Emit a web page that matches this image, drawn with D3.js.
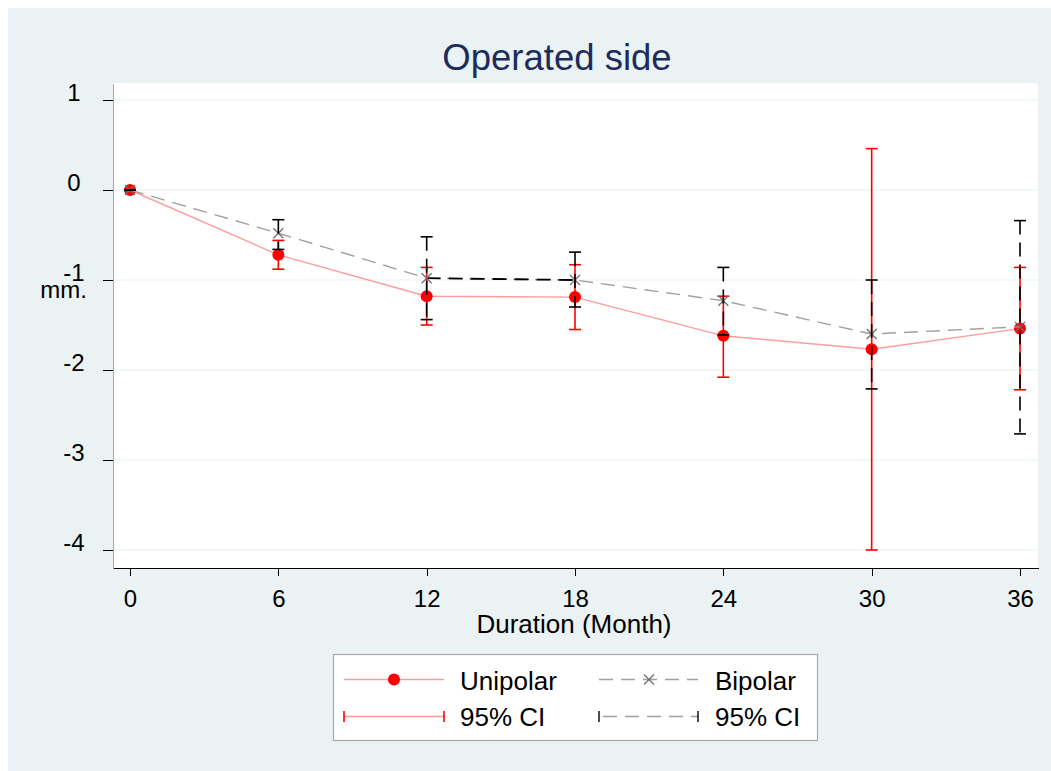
<!DOCTYPE html>
<html>
  <head>
    <meta charset="utf-8">
    <style>
      body {
        margin: 0;
        background: #fff;
      }
      text {
        font-family: "Liberation Sans", Arial, sans-serif;
      }
    </style>
  </head>
  <body>
    <script src="https://d3js.org/d3.v7.min.js"></script>
    <script type="text/javascript">
      // Operated side: mean change (mm.) with 95% CI, unipolar vs bipolar
      const months = [0, 6, 12, 18, 24, 30, 36];
      const unipolarMean = [0, -0.72, -1.18, -1.19, -1.62, -1.77, -1.54];
      const unipolarLow = [0, -0.88, -1.50, -1.55, -2.08, -4.00, -2.22];
      const unipolarHigh = [0, -0.56, -0.86, -0.83, -1.18, 0.46, -0.86];
      const bipolarMean = [0, -0.48, -0.98, -1.00, -1.23, -1.60, -1.52];
      const bipolarLow = [0, -0.66, -1.44, -1.30, -1.61, -2.21, -2.71];
      const bipolarHigh = [0, -0.33, -0.52, -0.69, -0.86, -1.00, -0.34];
      const yTicks = [1, 0, -1, -2, -3, -4];
      const legendLabels = ['Unipolar', 'Bipolar', '95% CI', '95% CI'];

      const width = 1051;
      const height = 771;
      const plot = { left: 113, right: 1038, top: 83, bottom: 568 };

      const pink = '#ff9c9c';
      const red = '#ff0000';
      const dash = '14,8';
      const cap = 6;

      const svg = d3.select('body')
        .append('svg')
        .attr('width', width)
        .attr('height', height);

      // graph region + plot region
      svg.append('rect')
        .attr('x', 8).attr('y', 8)
        .attr('width', width - 8).attr('height', height - 8)
        .attr('fill', '#eaf2f3');

      svg.append('rect')
        .attr('x', plot.left).attr('y', plot.top)
        .attr('width', plot.right - plot.left)
        .attr('height', plot.bottom - plot.top)
        .attr('fill', '#fff');

      const x = d3.scaleLinear()
        .domain([-0.688, 36.728])
        .range([plot.left, plot.right]);

      const y = d3.scaleLinear()
        .domain([-4.2, 1.189])
        .range([plot.bottom, plot.top]);

      // gridlines
      svg.append('g')
        .selectAll('line')
        .data(yTicks)
        .join('line')
        .attr('x1', plot.left)
        .attr('x2', plot.right)
        .attr('y1', (d) => y(d))
        .attr('y2', (d) => y(d))
        .attr('stroke', '#e6eff0')
        .attr('stroke-width', 1.2);

      // axes
      const yAxis = svg.append('g')
        .attr('transform', `translate(${plot.left},0)`)
        .call(d3.axisLeft(y).tickValues(yTicks).tickSize(10).tickSizeOuter(0)
          .tickFormat((d) => String(d).replace('−', '-')));
      yAxis.select('.domain').attr('stroke', '#a8a8a8');
      yAxis.selectAll('.tick line').attr('stroke', '#000');
      yAxis.selectAll('.tick text')
        .attr('x', -39)
        .attr('dy', '0.03em')
        .attr('text-anchor', 'middle')
        .attr('font-size', 24)
        .attr('fill', '#000');

      const xAxis = svg.append('g')
        .attr('transform', `translate(0,${plot.bottom})`)
        .call(d3.axisBottom(x).tickValues(months).tickSize(8).tickSizeOuter(0));
      xAxis.select('.domain').attr('stroke', '#000').attr('stroke-width', 1.5);
      xAxis.selectAll('.tick line').attr('stroke', '#000');
      xAxis.selectAll('.tick text')
        .attr('y', 39)
        .attr('dy', 0)
        .attr('font-size', 24)
        .attr('fill', '#000');

      svg.selectAll('.domain, .tick line').attr('shape-rendering', 'crispEdges');

      // titles
      svg.append('text')
        .attr('x', 557).attr('y', 70)
        .attr('text-anchor', 'middle')
        .attr('font-size', 36.5)
        .attr('fill', '#1d2c5b')
        .text('Operated side');

      svg.append('text')
        .attr('x', 574).attr('y', 633)
        .attr('text-anchor', 'middle')
        .attr('font-size', 26)
        .text('Duration (Month)');

      svg.append('text')
        .attr('x', 87).attr('y', 298)
        .attr('text-anchor', 'end')
        .attr('font-size', 24)
        .text('mm.');

      const idx = d3.range(months.length);

      function drawCI(low, high, color, dashed) {
        const g = svg.append('g');
        g.selectAll('line.bar')
          .data(idx)
          .join('line')
          .attr('class', 'bar')
          .attr('x1', (i) => x(months[i]))
          .attr('x2', (i) => x(months[i]))
          .attr('y1', (i) => y(high[i]))
          .attr('y2', (i) => y(low[i]))
          .attr('stroke', color)
          .attr('stroke-width', 1.6)
          .attr('stroke-dasharray', dashed ? dash : null);
        [low, high].forEach((arr) => {
          g.selectAll(null)
            .data(idx)
            .join('line')
            .attr('x1', (i) => x(months[i]) - cap)
            .attr('x2', (i) => x(months[i]) + cap)
            .attr('y1', (i) => y(arr[i]))
            .attr('y2', (i) => y(arr[i]))
            .attr('stroke', color)
            .attr('stroke-width', 1.6);
        });
      }

      const line = (vals) => d3.line()
        .x((i) => x(months[i]))
        .y((i) => y(vals[i]));

      // unipolar
      svg.append('path')
        .datum(idx)
        .attr('d', line(unipolarMean))
        .attr('fill', 'none')
        .attr('stroke', pink)
        .attr('stroke-width', 1.4);

      drawCI(unipolarLow, unipolarHigh, red, false);

      svg.append('g')
        .selectAll('circle')
        .data(idx)
        .join('circle')
        .attr('cx', (i) => x(months[i]))
        .attr('cy', (i) => y(unipolarMean[i]))
        .attr('r', 6)
        .attr('fill', red);

      // bipolar
      svg.append('path')
        .datum(idx)
        .attr('d', line(bipolarMean))
        .attr('fill', 'none')
        .attr('stroke', '#a0a0a0')
        .attr('stroke-width', 1.4)
        .attr('stroke-dasharray', dash);

      // the 12-18 month stretch renders darker in the original
      svg.append('path')
        .datum([2, 3])
        .attr('d', line(bipolarMean))
        .attr('fill', 'none')
        .attr('stroke', '#000')
        .attr('stroke-width', 1.8)
        .attr('stroke-dasharray', dash);

      const xMark = (cx, cy, s) =>
        `M${cx - s},${cy - s}L${cx + s},${cy + s}M${cx - s},${cy + s}L${cx + s},${cy - s}`;

      svg.append('g')
        .selectAll('path')
        .data(idx)
        .join('path')
        .attr('d', (i) => xMark(x(months[i]), y(bipolarMean[i]), 5))
        .attr('stroke', '#6e6e6e')
        .attr('stroke-width', 1.2);

      drawCI(bipolarLow, bipolarHigh, '#000', true);

      // legend
      const lg = svg.append('g');
      lg.append('rect')
        .attr('x', 333.5).attr('y', 654.5)
        .attr('width', 484).attr('height', 86)
        .attr('fill', '#fff')
        .attr('stroke', '#a8a8a8')
        .attr('stroke-width', 1.2);

      const row1 = 679.5;
      const row2 = 716.5;

      lg.append('line')
        .attr('x1', 344).attr('x2', 444).attr('y1', row1).attr('y2', row1)
        .attr('stroke', pink).attr('stroke-width', 1.4);
      lg.append('circle')
        .attr('cx', 394).attr('cy', row1).attr('r', 6).attr('fill', red);

      lg.append('line')
        .attr('x1', 599).attr('x2', 698).attr('y1', row1).attr('y2', row1)
        .attr('stroke', '#a0a0a0').attr('stroke-width', 1.4)
        .attr('stroke-dasharray', dash);
      lg.append('path')
        .attr('d', xMark(649, row1, 5))
        .attr('stroke', '#6e6e6e').attr('stroke-width', 1.2);

      lg.append('line')
        .attr('x1', 344).attr('x2', 444).attr('y1', row2).attr('y2', row2)
        .attr('stroke', pink).attr('stroke-width', 1.4);
      [344, 444].forEach((cx) => {
        lg.append('line')
          .attr('x1', cx).attr('x2', cx).attr('y1', row2 - 5.5).attr('y2', row2 + 5.5)
          .attr('stroke', red).attr('stroke-width', 1.6);
      });

      lg.append('line')
        .attr('x1', 599).attr('x2', 698).attr('y1', row2).attr('y2', row2)
        .attr('stroke', '#a0a0a0').attr('stroke-width', 1.4)
        .attr('stroke-dasharray', dash)
        .attr('stroke-dashoffset', -4);
      [599, 698].forEach((cx) => {
        lg.append('line')
          .attr('x1', cx).attr('x2', cx).attr('y1', row2 - 5.5).attr('y2', row2 + 5.5)
          .attr('stroke', '#000').attr('stroke-width', 1.4);
      });

      const labelPos = [[460, 690], [715, 690], [460, 726], [715, 726]];
      lg.selectAll('text')
        .data(legendLabels)
        .join('text')
        .attr('x', (d, i) => labelPos[i][0])
        .attr('y', (d, i) => labelPos[i][1])
        .attr('font-size', 26)
        .attr('fill', '#000')
        .text((d) => d);
    </script>
  </body>
</html>
